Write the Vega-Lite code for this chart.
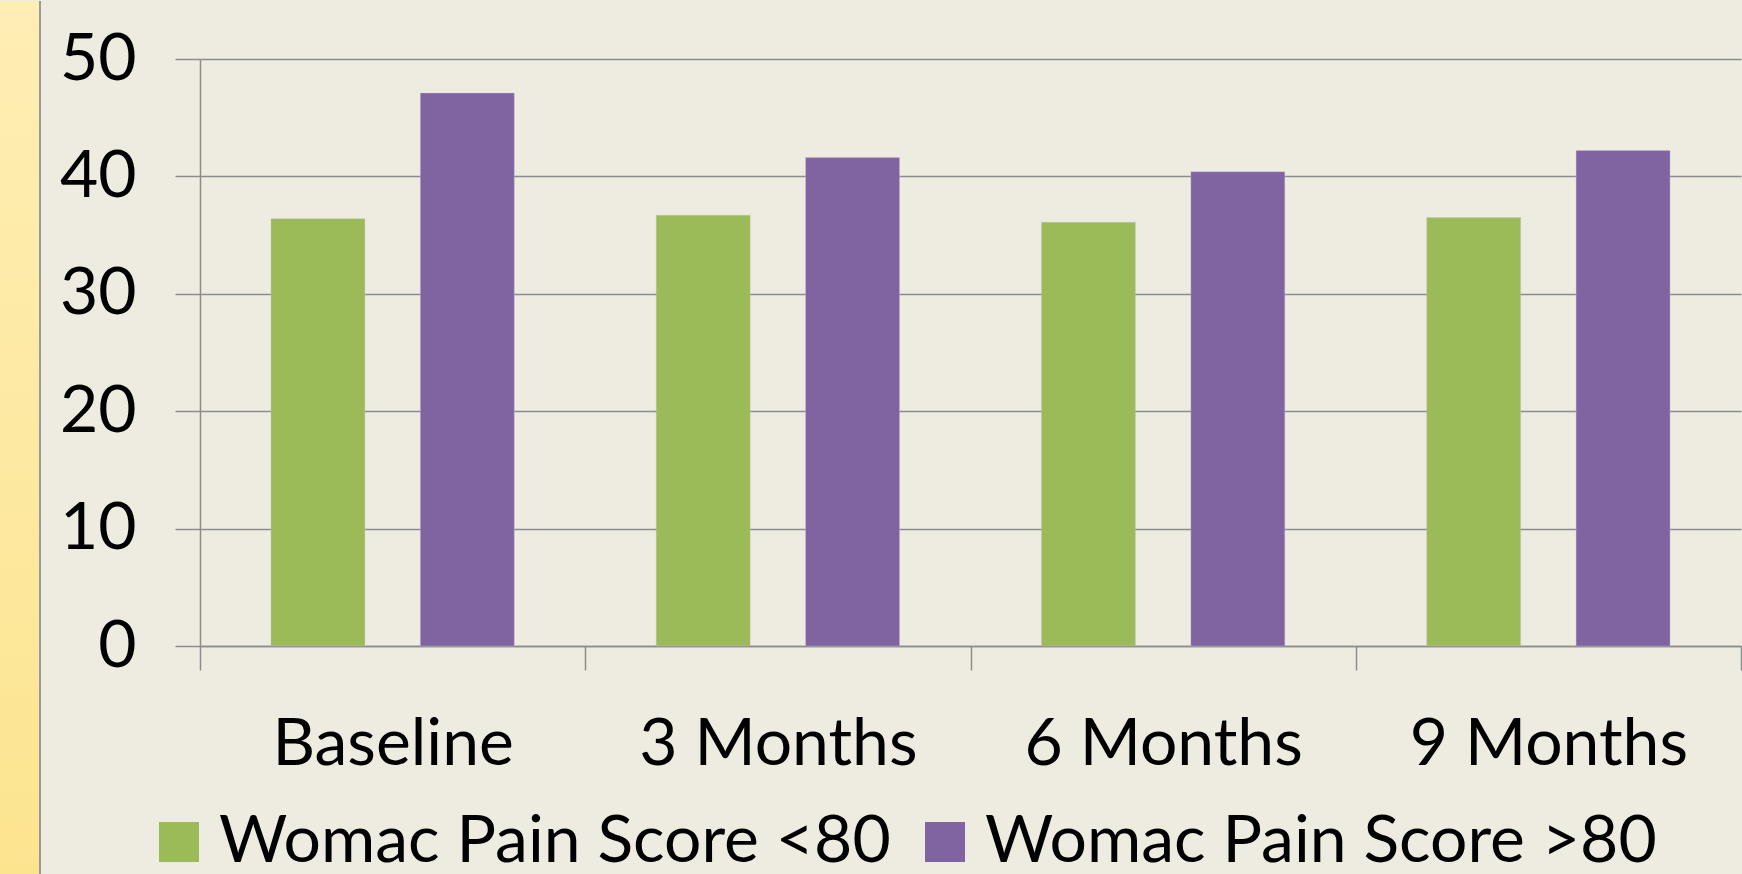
{
  "$schema": "https://vega.github.io/schema/vega-lite/v6.json",
  "padding": 0,
  "background": "#EEECE1",
  "spacing": 160,
  "bounds": "flush",
  "config": {
    "view": {"stroke": null},
    "font": "Lato",
    "axis": {"labelFont": "Lato", "labelColor": "#000000", "labelLimit": 1000},
    "legend": {"labelFont": "Lato", "labelColor": "#000000", "labelLimit": 1000}
  },
  "datasets": {
    "strip": [{"part": "sidebar"}],
    "spacer": [],
    "scores": [
      {"period": "Baseline", "group": "Womac Pain Score <80", "score": 36.4},
      {"period": "Baseline", "group": "Womac Pain Score >80", "score": 47.1},
      {"period": "3 Months", "group": "Womac Pain Score <80", "score": 36.7},
      {"period": "3 Months", "group": "Womac Pain Score >80", "score": 41.6},
      {"period": "6 Months", "group": "Womac Pain Score <80", "score": 36.1},
      {"period": "6 Months", "group": "Womac Pain Score >80", "score": 40.4},
      {"period": "9 Months", "group": "Womac Pain Score <80", "score": 36.5},
      {"period": "9 Months", "group": "Womac Pain Score >80", "score": 42.2}
    ]
  },
  "hconcat": [
    {
      "width": 40,
      "height": 874,
      "data": {"name": "strip"},
      "layer": [
        {
          "mark": {
            "type": "rect",
            "color": {
              "gradient": "linear",
              "x1": 0, "y1": 0, "x2": 0, "y2": 1,
              "stops": [
                {"offset": 0, "color": "#FEEEB4"},
                {"offset": 1, "color": "#FCE48F"}
              ]
            }
          },
          "encoding": {}
        },
        {
          "mark": {"type": "rule", "color": "#9A9A9A", "strokeWidth": 2},
          "encoding": {"x": {"value": "width"}}
        }
      ]
    },
    {
      "spacing": 0,
      "bounds": "flush",
      "vconcat": [
        {
          "width": 1541,
          "height": 58,
          "data": {"name": "spacer"},
          "mark": "point",
          "encoding": {}
        },
        {
          "width": 1541,
          "height": 587,
          "data": {"name": "scores"},
          "mark": {"type": "bar", "stroke": "#C9C0D6", "strokeWidth": 0.6, "strokeOpacity": 0.6},
          "encoding": {
            "x": {
              "field": "period",
              "type": "nominal",
              "sort": ["Baseline", "3 Months", "6 Months", "9 Months"],
              "scale": {"paddingInner": 0, "paddingOuter": 0},
              "axis": {
                "title": null,
                "labelAngle": 0,
                "labelFontSize": 66,
                "labelPadding": 42,
                "tickSize": 24,
                "tickBand": "extent",
                "tickColor": "#8C8C8C",
                "tickWidth": 1.5,
                "domainColor": "#8C8C8C",
                "domainWidth": 1.5
              }
            },
            "xOffset": {
              "field": "group",
              "type": "nominal",
              "scale": {"paddingInner": 0.371, "paddingOuter": 0.475}
            },
            "y": {
              "field": "score",
              "type": "quantitative",
              "scale": {"domain": [0, 50]},
              "axis": {
                "title": null,
                "values": [0, 10, 20, 30, 40, 50],
                "labelFontSize": 66,
                "labelPadding": 39,
                "tickSize": 25,
                "tickColor": "#8C8C8C",
                "tickWidth": 1.5,
                "domainColor": "#8C8C8C",
                "domainWidth": 1.5,
                "gridColor": "#8C8C8C",
                "gridWidth": 1.5
              }
            },
            "color": {
              "field": "group",
              "type": "nominal",
              "scale": {"range": ["#9BBB59", "#8064A2"]},
              "legend": {
                "title": null,
                "orient": "none",
                "direction": "horizontal",
                "legendX": 146,
                "legendY": 808,
                "padding": 0,
                "symbolType": "square",
                "symbolSize": 1600,
                "symbolStrokeWidth": 0,
                "labelFontSize": 66,
                "labelOffset": 7,
                "columnPadding": 21
              }
            }
          }
        }
      ]
    }
  ]
}
